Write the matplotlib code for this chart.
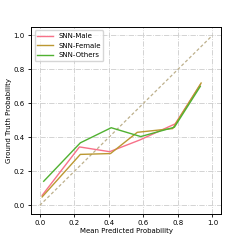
import matplotlib
matplotlib.use("Agg")
import matplotlib.pyplot as plt

# calibration curves
labels = ["SNN-Male", "SNN-Female", "SNN-Others"]
colors = ["#f77189", "#bb9832", "#50b131"]

male_x = [0.014, 0.23, 0.405, 0.58, 0.785, 0.93]
male_y = [0.059, 0.344, 0.316, 0.385, 0.48, 0.71]

female_x = [0.014, 0.235, 0.41, 0.565, 0.77, 0.935]
female_y = [0.05, 0.30, 0.305, 0.43, 0.452, 0.72]

others_x = [0.023, 0.235, 0.414, 0.585, 0.78, 0.93]
others_y = [0.142, 0.368, 0.457, 0.405, 0.46, 0.70]

xs = [male_x, female_x, others_x]
ys = [male_y, female_y, others_y]

fig = plt.figure(figsize=(2.45, 2.45), dpi=100)
ax = fig.add_axes([0.127, 0.127, 0.775, 0.763])

ax.plot([0, 1], [0, 1], linestyle=(0, (2.5, 1.8)), color="#bdb08c", linewidth=0.9)
for x, y, lab, c in zip(xs, ys, labels, colors):
    ax.plot(x, y, color=c, label=lab, linewidth=1.0)

ax.set_xlim(-0.05, 1.05)
ax.set_ylim(-0.05, 1.05)
ax.set_xticks([0, 0.2, 0.4, 0.6, 0.8, 1.0])
ax.set_yticks([0, 0.2, 0.4, 0.6, 0.8, 1.0])
ax.tick_params(labelsize=5, length=2.5, width=0.6, pad=2)
ax.set_xlabel("Mean Predicted Probability", fontsize=5, labelpad=1)
ax.set_ylabel("Ground Truth Probability", fontsize=5, labelpad=1)
ax.grid(True, linestyle="-.", color="#cccccc", linewidth=0.6)
for s in ax.spines.values():
    s.set_linewidth(0.7)
ax.legend(loc="upper left", fontsize=5, handlelength=2.2, framealpha=0.8)

plt.savefig("out.png", dpi=100)
